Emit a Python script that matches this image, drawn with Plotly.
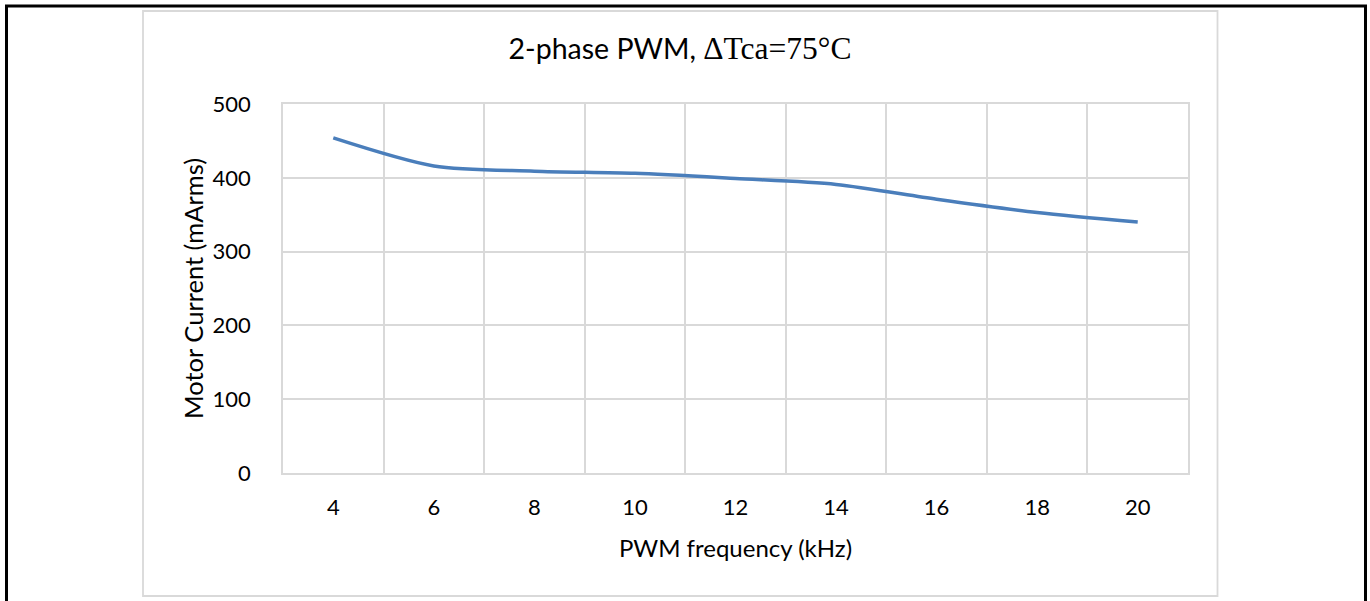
import plotly.graph_objects as go

freq_labels = ["4", "6", "8", "10", "12", "14", "16", "18", "20"]
motor_current = [454, 416, 409, 406, 399, 391, 371, 353, 340]
y_ticks = [0, 100, 200, 300, 400, 500]

W, H = 1370, 601
L, R, T, B = 283, 1188, 104, 473  # plot area in pixels

def px_x(x):
    return (x - L) / (R - L)

def px_y(y):
    return (B - y) / (B - T)

fig = go.Figure()
fig.add_trace(go.Scatter(
    x=freq_labels, y=motor_current, mode="lines",
    line=dict(color="#4A7EBB", width=3.5, shape="spline", smoothing=0.8),
    showlegend=False, hoverinfo="x+y",
))

font_main = "Lato, Open Sans, sans-serif"
grid = "#D9D9D9"

fig.update_layout(
    width=W, height=H,
    margin=dict(l=L, r=W - R, t=T, b=H - B, pad=0),
    paper_bgcolor="white", plot_bgcolor="white",
    font=dict(family=font_main, color="#000000", size=22),
    title=dict(
        text="2-phase PWM, <span style='font-family:Liberation Serif, Times New Roman, serif;font-size:31.5px'>ΔTca=75°C</span>",
        x=680 / W, xref="container", xanchor="center",
        y=1 - 49 / H, yref="container", yanchor="middle",
        font=dict(size=28.5, color="#000000"),
    ),
    xaxis=dict(
        type="category", tickson="boundaries", range=[-0.5, 8.5],
        showgrid=True, gridcolor=grid, gridwidth=1.8,
        showline=True, linecolor=grid, linewidth=1.8, mirror=True,
        ticks="", ticklabelstandoff=14,
        tickfont=dict(size=22),
        title=dict(text="PWM frequency (kHz)", font=dict(size=24), standoff=21),
        zeroline=False,
    ),
    yaxis=dict(
        range=[0, 500], tickvals=y_ticks, ticktext=[str(v) for v in y_ticks],
        showgrid=True, gridcolor=grid, gridwidth=1.8,
        showline=True, linecolor=grid, linewidth=1.8, mirror=True,
        ticks="", ticklabelstandoff=26,
        tickfont=dict(size=22),
        title=dict(text="Motor Current (mArms)", font=dict(size=25.5), standoff=1),
        zeroline=False,
    ),
)

# chart-area gray frame
fig.add_shape(type="rect", xref="paper", yref="paper",
              x0=px_x(143), x1=px_x(1217.5), y0=px_y(596), y1=px_y(11),
              line=dict(color=grid, width=1.8), layer="below")
# outer black frame
fig.add_shape(type="rect", xref="paper", yref="paper",
              x0=px_x(6.5), x1=px_x(1365.5), y0=px_y(620), y1=px_y(6),
              line=dict(color="black", width=3), layer="above")

fig.write_html(
    "out.html",
    config={"displayModeBar": False},
    post_script="document.body.style.margin='0';document.body.style.overflow='hidden';",
)
